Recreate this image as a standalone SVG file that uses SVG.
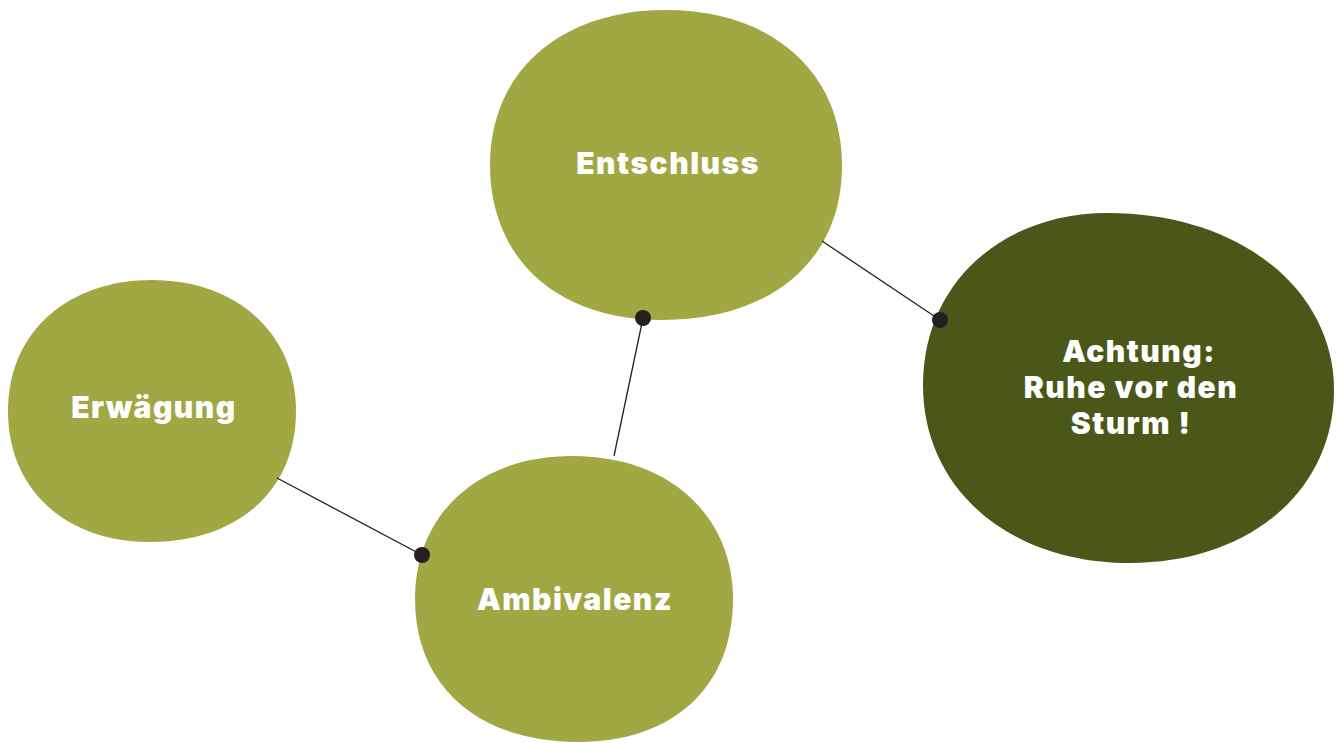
<svg xmlns="http://www.w3.org/2000/svg" width="1341" height="743" viewBox="0 0 1341 743">
<style>
.light{fill:#A0A843}
.dark{fill:#4B5619}
.lbl{font-family:"Inter","Liberation Sans",Arial,sans-serif;font-weight:900;font-size:30px;fill:#fff;text-anchor:middle;letter-spacing:1.5px}
.edge{stroke:#231F20;stroke-width:1.3;fill:none}
.dot{fill:#231F20}
</style>
<rect width="1341" height="743" fill="#fff"/>
<g id="node-entschluss">
<path class="light" d="M490,165 C490,70 562,10 666,10 C772,10 842,72 842,165 C842,262 770,320 662,320 C556,320 490,258 490,165Z"/>
<text class="lbl" x="668" y="174">Entschluss</text>
</g>
<g id="node-erwaegung">
<path class="light" d="M8,411 C8,330 70,280 152,280 C238,280 296,335 296,411 C296,492 236,542 150,542 C66,542 8,490 8,411Z"/>
<text class="lbl" x="154" y="418">Erwägung</text>
</g>
<g id="node-ambivalenz">
<path class="light" d="M415,599 C415,514 478,456 572,456 C672,456 733,518 733,599 C733,688 672,742 578,742 C478,742 415,686 415,599Z"/>
<text class="lbl" x="575" y="610">Ambivalenz</text>
</g>
<g id="node-achtung">
<path class="dark" d="M923,385 C923,285 1000,213 1108,213 C1240,213 1334,290 1334,390 C1334,490 1250,563 1130,563 C1010,563 923,490 923,385Z"/>
<text class="lbl" x="1139" y="362">Achtung:</text>
<text class="lbl" x="1131" y="398">Ruhe vor den</text>
<text class="lbl" x="1131" y="434">Sturm !</text>
</g>
<g id="connectors">
<line class="edge" x1="822" y1="241" x2="940" y2="320"/>
<circle class="dot" cx="940" cy="320" r="8"/>
<line class="edge" x1="614" y1="456" x2="643" y2="318"/>
<circle class="dot" cx="643" cy="318" r="8"/>
<line class="edge" x1="277" y1="478" x2="422" y2="555"/>
<circle class="dot" cx="422" cy="555" r="8"/>
</g>
</svg>
